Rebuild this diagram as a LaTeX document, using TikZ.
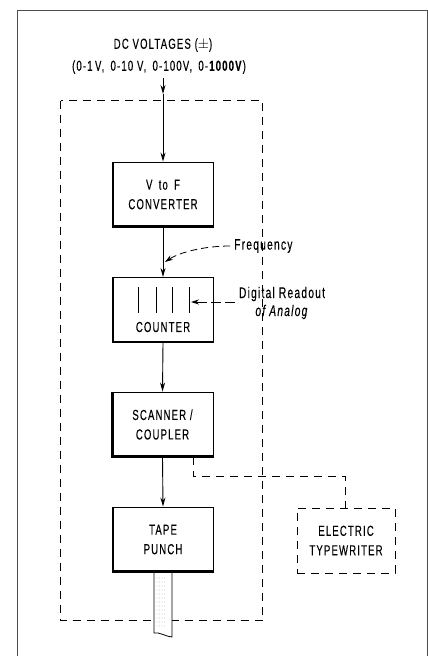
\documentclass[tikz,border=0pt]{standalone}
\usepackage{fontspec}
\setmainfont{Liberation Sans}[FakeStretch=0.66,LetterSpace=8,FakeBold=0.2]
\usetikzlibrary{arrows.meta}
\begin{document}
\begin{tikzpicture}[x=1pt,y=-1pt,
  blk/.style={draw,line width=0.9pt,minimum width=101pt,minimum height=65pt,align=center,font=\fontsize{14.5}{19.5}\selectfont,inner sep=0pt},
  dbox/.style={draw,line width=1pt,dash pattern=on 8pt off 6pt,minimum width=98pt,minimum height=65pt,align=center,font=\fontsize{14.5}{19.5}\selectfont,inner sep=0pt},
  dline/.style={line width=1pt,dash pattern=on 8pt off 6pt},
  flow/.style={line width=0.9pt,-{Stealth[length=9pt,width=5pt]}},
  lbl/.style={font=\fontsize{14.5}{19}\selectfont,inner sep=0pt,align=center},
  side/.style={font=\fontsize{15.5}{19}\selectfont,inner sep=0pt,align=center}]
\useasboundingbox (0,0) rectangle (428,656);
% outer frame
\draw[line width=1pt,black!70] (17,656) -- (17,10) -- (427,10) -- (427,656);
% inner dashed enclosure
\draw[dline] (60.5,100.5) rectangle (262.5,620.5);
% title
\node[lbl] (t1) at (163,45) {DC VOLTAGES ($\pm$)};
\node[lbl] (t2) at (159,67) {(0-1\,V,\, 0-10 V,\, 0-100V,\, 0-\textbf{1000V})};
% blocks
\node[blk] (vf) at (163,194.5) {V\, to\, F\\CONVERTER};
\node[blk] (ct) at (163,310) {};
\node[lbl] (ctl) at (163,327) {COUNTER};
\node[blk] (sc) at (162.5,424.5) {SCANNER /\\COUPLER};
\node[blk] (tp) at (163,539.5) {TAPE\\PUNCH};
\node[dbox] (et) at (346,540.5) {ELECTRIC\\TYPEWRITER};
% shadows
\foreach \n in {vf,ct,sc,tp}{
  \draw[line width=2.6pt] ([xshift=1pt]\n.north west) -- ([xshift=1pt,yshift=1pt]\n.south west) -- ([yshift=1pt]\n.south east);
}
% counter digits
\foreach \x in {138,156,172,189}{\draw[line width=0.9pt] (\x,287) -- (\x,313);}
% flows
\coordinate (tin) at (163,78);
\draw[flow] (tin) -- (163,94);
\draw[flow] (163,94) -- (vf.north);
\draw[flow] (vf.south) -- (ct.north);
\draw[flow] (ct.south) -- (sc.north);
\draw[flow] (sc.south) -- (tp.north);
% scanner to typewriter dashed connection
\draw[dline] ([xshift=31pt]sc.south) -- (193.5,476.5) -- (345.5,476.5) -- (et.north -| 345.5,0);
% labels
\node[side,anchor=west] (fq) at (234,246) {Frequency};
\draw[line width=0.8pt,dash pattern=on 7pt off 4pt,-{Stealth[length=8pt,width=5pt]}] ([xshift=-4pt]fq.west) .. controls (205,246) and (180,252) .. (165,262);
\node[side] (dr) at (282,303) {Digital Readout\\[-1pt]\textit{of Analog}};
\draw[line width=0.8pt,dash pattern=on 10pt off 4pt,-{Stealth[length=8pt,width=5pt]}] ([xshift=-4pt]dr.west|-0,302) -- (191,302);
% tape
\draw[line width=0.8pt,fill=white] (154,573) -- (154,633) .. controls (160,632) and (164,636) .. (172,637) -- (172,573);
\foreach \yy in {578,582,...,626}{
  \foreach \xx in {157,159.5,162,164.5}{\fill[black!40] (\xx,\yy) circle (0.4pt);}
}
\end{tikzpicture}
\end{document}
